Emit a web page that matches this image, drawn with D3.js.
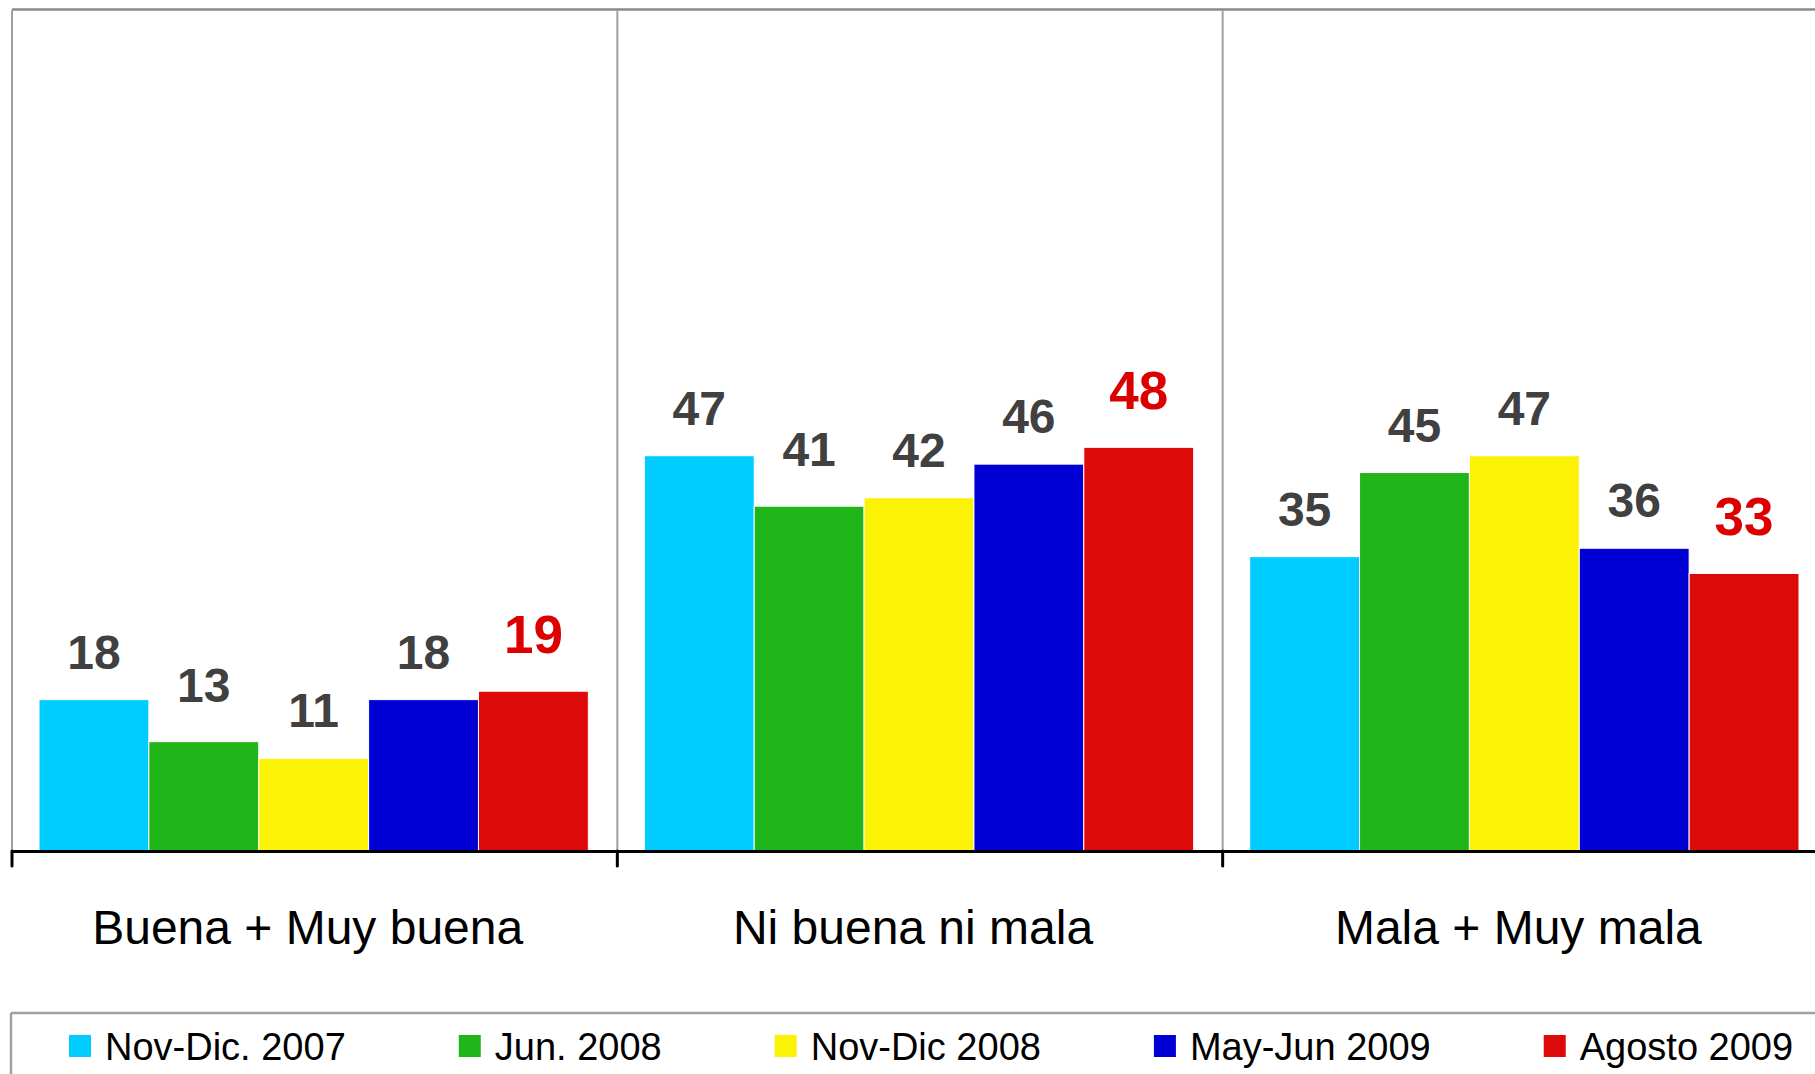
<!DOCTYPE html>
<html>
<head>
<meta charset="utf-8">
<script src="https://cdn.jsdelivr.net/npm/d3@7"></script>
<style>
  body { margin: 0; background: #fff; overflow: hidden; }
  text { font-family: "Liberation Sans", Arial, sans-serif; }
</style>
</head>
<body>
<script>
// data
const categories = ["Buena + Muy buena", "Ni buena ni mala", "Mala + Muy mala"];
const series = ["Nov-Dic. 2007", "Jun. 2008", "Nov-Dic 2008", "May-Jun 2009", "Agosto 2009"];
const nov2007 = [18, 47, 35];
const jun2008 = [13, 41, 45];
const nov2008 = [11, 42, 47];
const mayJun2009 = [18, 46, 36];
const agosto2009 = [19, 48, 33];
const colors = ["#00ccff", "#20b518", "#fcf205", "#0000d4", "#dd0a0a"];

const values = [nov2007, jun2008, nov2008, mayJun2009, agosto2009];
const data = categories.map((c, i) => ({
  category: c,
  bars: series.map((s, j) => ({ series: s, value: values[j][i], idx: j, cat: i }))
}));

const width = 1815, height = 1074;
const plot = { left: 12, top: 10, right: 1828, bottom: 851 };

// a couple of labels sit a bit higher in the original
const labelNudge = (d) => (d.idx === 1 && d.cat < 2 ? 9 : 0);

const svg = d3.select("body").append("svg")
  .attr("width", width)
  .attr("height", height);

const x0 = d3.scaleBand().domain(categories).range([plot.left, plot.right]);
const x1 = d3.scaleBand().domain(series).range([27, x0.bandwidth() - 29]);
const y = d3.scaleLinear().domain([0, 100]).range([plot.bottom, plot.top]);

// plot frame
svg.append("line")
  .attr("x1", plot.left).attr("x2", width)
  .attr("y1", plot.top - 0.5).attr("y2", plot.top - 0.5)
  .attr("stroke", "#8a8a8a").attr("stroke-width", 2.5);
svg.append("line")
  .attr("x1", plot.left).attr("x2", plot.left)
  .attr("y1", plot.top).attr("y2", plot.bottom)
  .attr("stroke", "#a0a0a0").attr("stroke-width", 2);
svg.selectAll(".divider")
  .data(categories.slice(1))
  .enter()
  .append("line")
  .attr("class", "divider")
  .attr("x1", (d) => x0(d)).attr("x2", (d) => x0(d))
  .attr("y1", plot.top).attr("y2", plot.bottom)
  .attr("stroke", "#a0a0a0").attr("stroke-width", 2);

// bars
const groups = svg.selectAll(".group")
  .data(data)
  .enter()
  .append("g")
  .attr("class", "group")
  .attr("transform", (d) => `translate(${x0(d.category)},0)`);

groups.selectAll("rect")
  .data((d) => d.bars)
  .enter()
  .append("rect")
  .attr("x", (d) => x1(d.series))
  .attr("width", x1.bandwidth())
  .attr("y", (d) => y(d.value))
  .attr("height", (d) => plot.bottom - y(d.value))
  .attr("fill", (d) => colors[d.idx])
  .attr("stroke", "#fff")
  .attr("stroke-width", 1);

// value labels, last series highlighted in red
groups.selectAll(".val")
  .data((d) => d.bars)
  .enter()
  .append("text")
  .attr("class", "val")
  .attr("x", (d) => x1(d.series) + x1.bandwidth() / 2)
  .attr("y", (d) => y(d.value) - (d.idx === 4 ? 38 : 31) - labelNudge(d))
  .attr("text-anchor", "middle")
  .style("font-weight", "bold")
  .style("font-size", (d) => (d.idx === 4 ? "53px" : "48px"))
  .style("fill", (d) => (d.idx === 4 ? "#dd0000" : "#404040"))
  .text((d) => d.value);

// x axis
const xAxis = svg.append("g")
  .attr("transform", `translate(0,${plot.bottom})`)
  .call(d3.axisBottom(x0).tickSize(0).tickSizeOuter(0));

xAxis.select(".domain")
  .attr("stroke", "#000")
  .attr("stroke-width", 3);

xAxis.selectAll(".tick text")
  .attr("y", 93)
  .attr("dy", null)
  .attr("dx", -7)
  .style("font-size", "48px")
  .style("fill", "#000")
  .style("font-family", '"Liberation Sans", Arial, sans-serif');

svg.selectAll(".bound")
  .data(categories)
  .enter()
  .append("line")
  .attr("class", "bound")
  .attr("x1", (d) => x0(d)).attr("x2", (d) => x0(d))
  .attr("y1", plot.bottom).attr("y2", plot.bottom + 15)
  .attr("stroke", "#000")
  .attr("stroke-width", 3)
  .attr("stroke-linecap", "round");

// legend
const legend = svg.append("g");
legend.append("line")
  .attr("x1", 11).attr("x2", width)
  .attr("y1", 1013).attr("y2", 1013)
  .attr("stroke", "#a0a0a0").attr("stroke-width", 2.5);
legend.append("line")
  .attr("x1", 11).attr("x2", 11)
  .attr("y1", 1013).attr("y2", height)
  .attr("stroke", "#a0a0a0").attr("stroke-width", 2.5);

let cursor = 69;
series.forEach((s, i) => {
  legend.append("rect")
    .attr("x", cursor).attr("y", 1035)
    .attr("width", 22).attr("height", 22)
    .attr("fill", colors[i]);
  const t = legend.append("text")
    .attr("x", cursor + 36).attr("y", 1060)
    .style("font-size", "38px")
    .style("fill", "#000")
    .text(s);
  cursor += 36 + t.node().getComputedTextLength() + 113;
});
</script>
</body>
</html>
